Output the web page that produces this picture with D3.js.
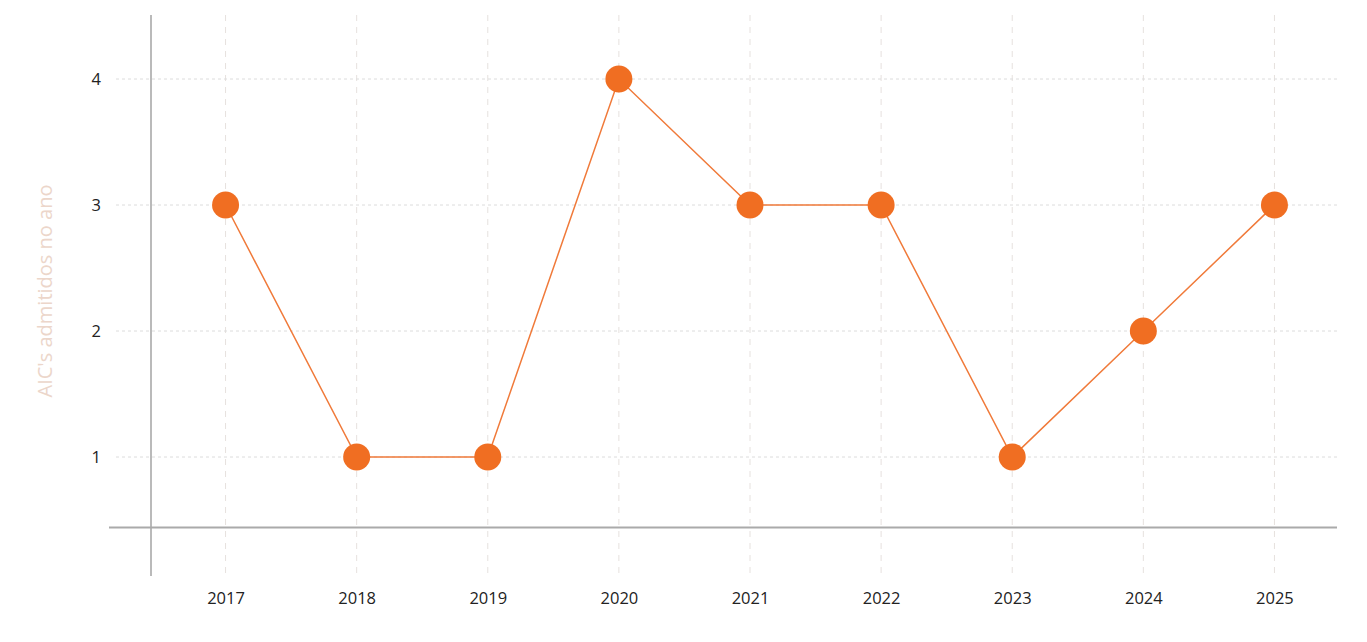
<!DOCTYPE html>
<html><head><meta charset="utf-8">
<script src="https://cdn.jsdelivr.net/npm/d3@7"></script>
<style>
html,body{margin:0;padding:0;background:#fff;}
svg{display:block;font-family:"Open Sans","Noto Sans",sans-serif;}
</style></head>
<body><svg id="c" width="1367" height="642"></svg>
<script>
const years = ["2017","2018","2019","2020","2021","2022","2023","2024","2025"];
const values = [3,1,1,4,3,3,1,2,3];
const yTicks = [1,2,3,4];
const yTitle = "AIC's admitidos no ano";

const svg = d3.select("#c");
const x = d3.scalePoint().domain(years).range([160,1340]).padding(0.5);
const y = d3.scaleLinear().domain([0.05,4.5]).range([576.7,16]);

// vertical dashed grid
svg.append("g").selectAll("line").data(years).join("line")
  .attr("x1",d=>x(d)).attr("x2",d=>x(d)).attr("y1",15).attr("y2",576)
  .attr("stroke","#e6e1de").attr("stroke-width",1).attr("stroke-dasharray","6,6");
// horizontal dotted grid
svg.append("g").selectAll("line").data(yTicks).join("line")
  .attr("x1",116).attr("x2",1337).attr("y1",d=>y(d)).attr("y2",d=>y(d))
  .attr("stroke","#dcdcdc").attr("stroke-width",1).attr("stroke-dasharray","3,3");

// y axis line
svg.append("line").attr("x1",151).attr("x2",151).attr("y1",15).attr("y2",576)
  .attr("stroke","#8c8c8c").attr("stroke-width",1.2);
// x axis baseline
svg.append("line").attr("x1",109).attr("x2",1337).attr("y1",y(0.44)).attr("y2",y(0.44))
  .attr("stroke","#aaaaaa").attr("stroke-width",2);

// y tick labels
const yAxis = d3.axisLeft(y).tickValues(yTicks).tickSize(0).tickPadding(0).tickFormat(d3.format("d"));
const gy = svg.append("g").attr("transform","translate(101,0)").call(yAxis);
gy.select(".domain").remove();
gy.selectAll("text").attr("font-size",16.5).attr("fill","#222").attr("font-family","'Open Sans','Noto Sans',sans-serif");

// x tick labels
const xAxis = d3.axisBottom(x).tickSize(0).tickPadding(0);
const gx = svg.append("g").attr("transform","translate(0,592)").call(xAxis);
gx.select(".domain").remove();
gx.selectAll("text").attr("font-size",16.5).attr("fill","#222").attr("font-family","'Open Sans','Noto Sans',sans-serif");

// y title
svg.append("text").attr("transform","translate(52,291) rotate(-90)")
  .attr("text-anchor","middle").attr("font-size",20).attr("fill","#ecd6ca")
  .text(yTitle);

// line
const data = years.map((yr,i)=>({yr,v:values[i]}));
svg.append("path").datum(data)
  .attr("d",d3.line().x(d=>x(d.yr)).y(d=>y(d.v)))
  .attr("fill","none").attr("stroke","#f07a3a").attr("stroke-width",1.5);
svg.append("g").selectAll("circle").data(data).join("circle")
  .attr("cx",d=>x(d.yr)).attr("cy",d=>y(d.v)).attr("r",13.5)
  .attr("fill","#f06e22");
</script></body></html>
